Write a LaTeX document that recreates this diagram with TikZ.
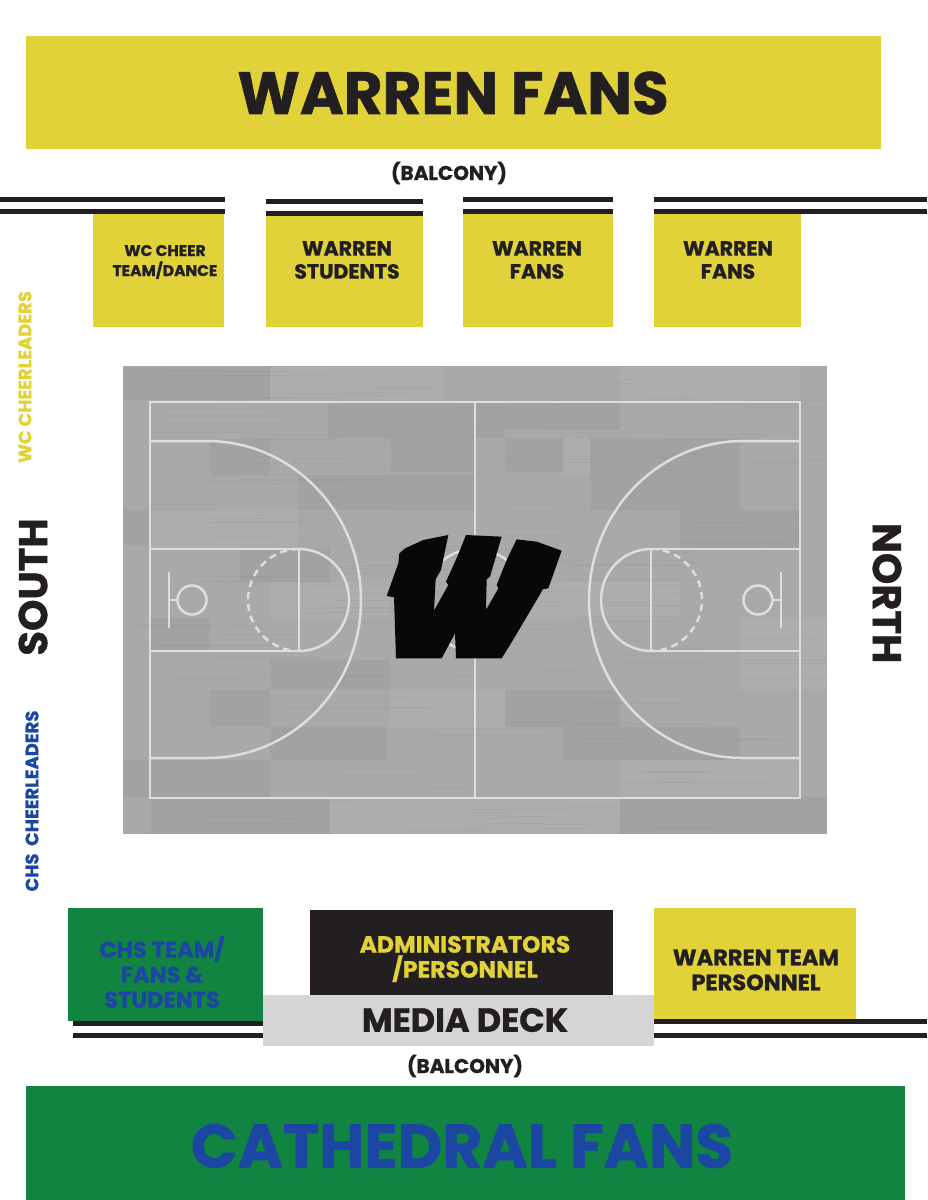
\documentclass[tikz,border=0pt]{standalone}
\usepackage{fontspec}
\setmainfont{Poppins}[BoldFeatures={FakeBold=1}]
\definecolor{warrenyellow}{HTML}{E0D238}
\definecolor{chsgreen}{HTML}{108440}
\definecolor{chsblue}{HTML}{1B47A3}
\definecolor{railblack}{HTML}{231F20}
\definecolor{deckgray}{HTML}{D5D5D5}
\definecolor{floorbase}{HTML}{A9A9A9}
\definecolor{floordark}{HTML}{9A9A9A}
\definecolor{floorlight}{HTML}{B4B4B4}
\definecolor{courtline}{HTML}{DEDEDE}
\tikzset{
    seatlabel/.style={font=\bfseries\fontsize{20.5}{23}\selectfont, text=railblack, align=center, inner sep=0pt},
    courtlines/.style={draw=courtline, line width=2.5pt},
}
\begin{document}
\begin{tikzpicture}[x=1pt,y=-1pt]
    \useasboundingbox (0,0) rectangle (927,1200);
    % seating blocks
    \fill[warrenyellow] (26,36) rectangle (881,149);
    \fill[warrenyellow] (93,213) rectangle (224,327);
    \fill[warrenyellow] (266,215) rectangle (423,327);
    \fill[warrenyellow] (463,213) rectangle (613,327);
    \fill[warrenyellow] (654,213) rectangle (801,327);
    \fill[chsgreen] (68,908) rectangle (263,1021);
    \fill[railblack] (310,910) rectangle (613,995);
    \fill[deckgray] (263,995) rectangle (654,1046);
    \fill[warrenyellow] (654,908) rectangle (856,1019);
    \fill[chsgreen] (26,1086) rectangle (905,1200);
    % rails
    \foreach \xa/\xb/\ya in {0/225/197, 266/423/199, 463/613/197, 654/927/197} {
        \fill[railblack] (\xa,\ya) rectangle (\xb,\ya+5);
        \fill[railblack] (\xa,\ya+12) rectangle (\xb,\ya+17);
    }
    \foreach \xa/\xb/\ya in {73/263/1021, 654/927/1019} {
        \fill[railblack] (\xa,\ya) rectangle (\xb,\ya+5);
    }
    \fill[railblack] (73,1033) rectangle (263,1037.5);
    \fill[railblack] (654,1033) rectangle (927,1037.5);
    % floor
    \fill[floorbase] (123,366) rectangle (827,834);
    \foreach \xa/\ya/\xb/\yb in {123/367/270/400, 328/402/505/438, 505/402/620/430, 210/440/270/475,
        390/438/475/472, 298/475/475/510, 505/438/563/472, 590/438/740/510, 123/510/150/545,
        240/548/330/582, 150/618/210/650, 270/660/390/690, 270/727/387/760, 210/690/270/727,
        563/727/740/760, 505/690/620/727, 123/760/270/797, 620/797/827/834, 150/797/330/834, 680/510/800/550} {
        \fill[floordark, opacity=.45] (\xa,\ya) rectangle (\xb,\yb);
    }
    \foreach \xa/\ya/\xb/\yb in {270/367/445/400, 620/367/800/402, 150/510/298/548, 270/582/390/618,
        563/438/590/475, 505/582/680/618, 390/690/505/727, 620/760/800/797, 330/797/620/834, 740/618/827/690} {
        \fill[floorlight, opacity=.45] (\xa,\ya) rectangle (\xb,\yb);
    }
    \pgfmathsetseed{42}
    \foreach \i in {1,...,260} {
        \pgfmathsetmacro{\ya}{367+rnd*466}
        \pgfmathsetmacro{\xa}{123+rnd*650}
        \pgfmathsetmacro{\xl}{40+rnd*100}
        \draw[gray, opacity=.12, line width=1pt] (\xa,\ya) -- ({min(\xa+\xl,827)},\ya);
    }
    % court
    \draw[courtlines] (150,402) rectangle (800,798);
    \draw[courtlines] (475,402) -- (475,798);
    \draw[courtlines] (475,600) circle (51);
    \foreach \sgn/\off in {1/0, -1/950} {
        \begin{scope}[shift={(\off,0)}, xscale=\sgn]
            \draw[courtlines] (150,441) -- (207,441) .. controls (292,441) and (361,512) .. (361,600)
                .. controls (361,688) and (292,758) .. (207,758) -- (150,758);
            \draw[courtlines] (150,549) -- (299,549) (150,651) -- (299,651) (299,549) -- (299,651);
            \draw[courtlines] (299,549) .. controls (327,549) and (349,572) .. (349,600)
                .. controls (349,628) and (327,651) .. (299,651);
            \draw[courtlines, dashed, dash pattern=on 7pt off 5pt] (299,549) .. controls (271,549) and (248,572) .. (248,600)
                .. controls (248,628) and (271,651) .. (299,651);
            \draw[courtlines] (169,572) -- (169,628);
            \draw[courtlines] (169,600) -- (177,600);
            \draw[courtlines] (192,600) circle (14.5);
        \end{scope}
    }
    % center logo
    \begin{scope}[shift={(370,520)}, x=.3333pt, y=-.3333pt]
        \fill[black!97!white] (50,228) -- (85,130) -- (88,100) -- (105,85) -- (160,60) -- (235,45)
            -- (213,150) -- (197,178) -- (192,272) -- (235,195) -- (228,185)
            -- (262,110) -- (288,45) -- (395,50) -- (360,170) -- (350,178)
            -- (348,270) -- (385,205) -- (380,195) -- (410,120) -- (440,58) -- (500,65)
            -- (575,92) -- (535,205) -- (518,208) -- (512,220) -- (420,375) -- (395,415)
            -- (258,415) -- (255,340) -- (215,415) -- (78,415) -- (72,232) -- cycle;
    \end{scope}
    % labels
    \node[seatlabel, font=\bfseries\fontsize{59.5}{62}\selectfont] (warrenfans) at (453,93) {WARREN FANS};
    \node[seatlabel, font=\bfseries\fontsize{20}{20}\selectfont] (balconytop) at (449,173) {(BALCONY)};
    \node[seatlabel, font=\bfseries\fontsize{15.5}{20}\selectfont] (cheerteam) at (165,262) {WC CHEER\\TEAM/DANCE};
    \node[seatlabel] (students) at (347,260) {WARREN\\STUDENTS};
    \node[seatlabel] (fanseast) at (537,260) {WARREN\\FANS};
    \node[seatlabel] (fanswest) at (728,260) {WARREN\\FANS};
    \node[seatlabel, text=chsblue, font=\bfseries\fontsize{22.5}{25}\selectfont] (chsteam) at (162,972) {CHS TEAM/\\FANS \&\\STUDENTS};
    \node[seatlabel, text=warrenyellow, font=\bfseries\fontsize{23.5}{25}\selectfont] (admins) at (465,959) {ADMINISTRATORS\\/PERSONNEL};
    \node[seatlabel, font=\bfseries\fontsize{33.5}{34}\selectfont] (mediadeck) at (465,1020) {MEDIA DECK};
    \node[seatlabel, font=\bfseries\fontsize{22.5}{25}\selectfont] (teampersonnel) at (756,970) {WARREN TEAM\\PERSONNEL};
    \node[seatlabel, font=\bfseries\fontsize{20}{20}\selectfont] (balconybottom) at (465,1066) {(BALCONY)};
    \node[seatlabel, text=chsblue, font=\bfseries\fontsize{61.5}{62}\selectfont] (cathedral) at (462,1146) {CATHEDRAL FANS};
    \node[seatlabel, rotate=90, font=\bfseries\fontsize{40}{40}\selectfont] (south) at (33,587) {SOUTH};
    \node[seatlabel, rotate=-90, font=\bfseries\fontsize{40}{40}\selectfont] (north) at (887,593) {NORTH};
    \node[seatlabel, rotate=90, text=warrenyellow, font=\bfseries\fontsize{18}{18}\selectfont] (wccheer) at (25,377) {WC CHEERLEADERS};
    \node[seatlabel, rotate=90, text=chsblue, font=\bfseries\fontsize{18}{18}\selectfont] (chscheer) at (32,801) {CHS\ \ CHEERLEADERS};
\end{tikzpicture}
\end{document}
